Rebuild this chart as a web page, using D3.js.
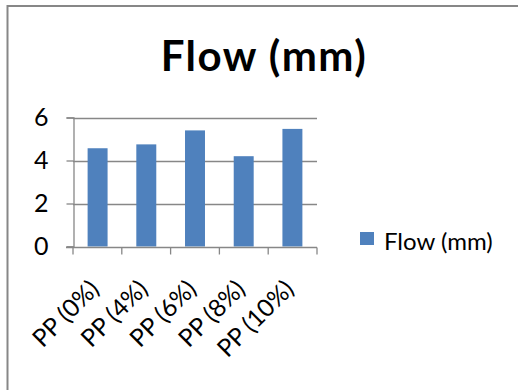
<!DOCTYPE html>
<html>
<head>
<meta charset="utf-8">
<script src="https://cdn.jsdelivr.net/npm/d3@7"></script>
<style>
  body { margin: 0; background: #fff; }
  svg { display: block; font-family: Lato, "Open Sans", sans-serif; }
</style>
</head>
<body>
<svg id="chart" width="518" height="390"></svg>
<script>
const categories = ["PP (0%)", "PP (4%)", "PP (6%)", "PP (8%)", "PP (10%)"];
const flowValues = [4.57, 4.75, 5.4, 4.2, 5.47];
const yTicks = [0, 2, 4, 6];
const seriesName = "Flow (mm)";

const svg = d3.select("#chart");
const blue = "#4f81bd", grid = "#878787";
const font = "Lato, sans-serif";

// outer chart frame (right/bottom edges fall outside the picture)
svg.append("rect")
    .attr("x", 7.5).attr("y", 6).attr("width", 530).attr("height", 400)
    .attr("fill", "none").attr("stroke", grid).attr("stroke-width", 2);

const margin = {left: 73, right: 317, top: 117.5, bottom: 246.5};

const x = d3.scaleBand()
    .domain(categories)
    .range([margin.left, margin.right])
    .paddingInner(0.59).paddingOuter(0.3);

const y = d3.scaleLinear().domain([0, 6]).range([margin.bottom, margin.top]);

// gridlines
svg.append("g").selectAll("line")
  .data(yTicks.filter(d => d > 0))
  .enter().append("line")
    .attr("x1", margin.left).attr("x2", margin.right)
    .attr("y1", d => Math.round(y(d)) + 0.5).attr("y2", d => Math.round(y(d)) + 0.5)
    .attr("stroke", grid).attr("stroke-width", 1.3);

// bars
svg.append("g").selectAll("rect")
  .data(flowValues)
  .enter().append("rect")
    .attr("x", (d, i) => x(categories[i]))
    .attr("width", x.bandwidth())
    .attr("y", d => y(d))
    .attr("height", d => y(0) - y(d))
    .attr("fill", blue);

// y axis
const yAxis = svg.append("g")
    .attr("transform", "translate(" + (margin.left + 0.5) + ",0)")
    .call(d3.axisLeft(y).tickValues(yTicks).tickFormat(d3.format("d")).tickSize(7).tickPadding(18));
yAxis.select(".domain").attr("stroke", grid).attr("stroke-width", 1.3);
yAxis.selectAll(".tick line").attr("stroke", grid).attr("stroke-width", 1.3);
yAxis.selectAll(".tick text").attr("font-size", 25).attr("fill", "#000")
    .attr("font-family", font);

// x axis with ticks between categories
const xAxisG = svg.append("g")
    .attr("transform", "translate(0," + (Math.round(y(0)) + 0.5) + ")");
xAxisG.append("line")
    .attr("x1", margin.left - 7).attr("x2", margin.right)
    .attr("stroke", grid).attr("stroke-width", 1.3);
const edges = d3.range(categories.length + 1).map(i => margin.left + i * (margin.right - margin.left) / categories.length);
xAxisG.selectAll(".edge").data(edges).enter().append("line")
    .attr("x1", d => d).attr("x2", d => d).attr("y1", 0).attr("y2", 7)
    .attr("stroke", grid).attr("stroke-width", 1.3);

xAxisG.selectAll(".lab").data(categories).enter().append("text")
    .attr("transform", d => "translate(" + (x(d) + x.bandwidth() / 2 + 3) + ",43) rotate(-45)")
    .attr("text-anchor", "end")
    .attr("font-size", 24.5)
    .attr("fill", "#000")
    .text(d => d);

// title
svg.append("text")
    .attr("x", 264).attr("y", 71)
    .attr("text-anchor", "middle")
    .attr("font-size", 42).attr("font-weight", "bold")
    .attr("letter-spacing", 1.5)
    .text(seriesName);

// legend
svg.append("rect").attr("x", 360).attr("y", 232).attr("width", 14).attr("height", 13).attr("fill", blue);
svg.append("text").attr("x", 384).attr("y", 250).attr("font-size", 24).text(seriesName);
</script>
</body>
</html>
